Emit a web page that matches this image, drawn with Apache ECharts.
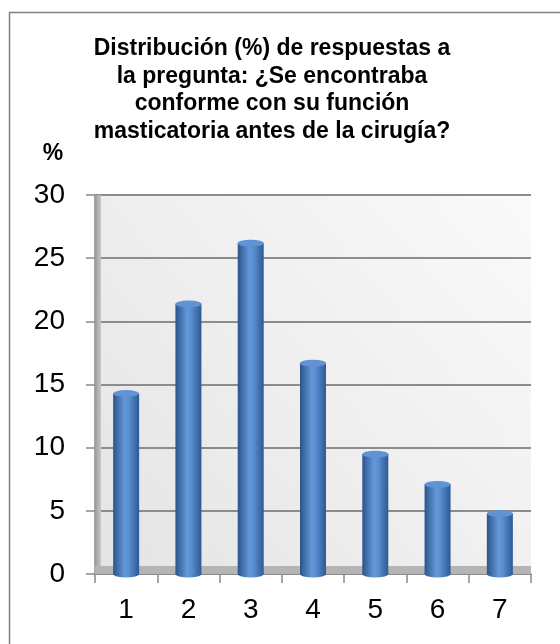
<!DOCTYPE html>
<html>
<head>
<meta charset="utf-8">
<script src="https://cdn.jsdelivr.net/npm/echarts@6/dist/echarts.min.js"></script>
<style>
html,body{margin:0;padding:0;background:#fff;}
#chart{width:560px;height:644px;}
</style>
</head>
<body>
<div id="chart"></div>
<script>
var titleText = 'Distribución (%) de respuestas a\nla pregunta: ¿Se encontraba\nconforme con su función\nmasticatoria antes de la cirugía?';
var yAxisName = '%';
var categories = ['1', '2', '3', '4', '5', '6', '7'];
var values = [14.3, 21.4, 26.2, 16.7, 9.5, 7.1, 4.8];
var yTicks = [0, 5, 10, 15, 20, 25, 30];

var chart = echarts.init(document.getElementById('chart'), null, {renderer: 'canvas'});
var barGrad = new echarts.graphic.LinearGradient(0, 0, 1, 0, [
  {offset: 0, color: '#2b5489'},
  {offset: 0.45, color: '#6399da'},
  {offset: 0.6, color: '#5a8fd2'},
  {offset: 1, color: '#2c5a93'}
]);
var GL = 95, GR = 29, GT = 195, GB = 70;
var option = {
  animation: false,
  backgroundColor: '#ffffff',
  title: {
    text: titleText,
    left: 267, textAlign: 'center', top: 30,
    textStyle: {fontFamily: 'Liberation Sans, Arial', fontWeight: 'bold', fontSize: 23, lineHeight: 27.5, color: '#000'}
  },
  graphic: [
    {type: 'rect', shape: {x: 9.5, y: 12.5, width: 700, height: 800}, style: {fill: 'none', stroke: '#808080', lineWidth: 1.5}, silent: true, z: 0},
    {type: 'text', x: 53, y: 154, style: {text: yAxisName, font: 'bold 23px "Liberation Sans", Arial', fill: '#000', align: 'center', verticalAlign: 'middle'}},
    {type: 'rect', shape: {x: GL, y: GT, width: 6, height: 644 - GT - GB}, style: {fill: new echarts.graphic.LinearGradient(0, 0, 1, 0, [{offset: 0, color: '#9a9a9a'}, {offset: 1, color: '#c8c8c8'}])}, silent: true, z: 1},
    {type: 'rect', shape: {x: GL, y: 644 - GB - 8, width: 560 - GL - GR, height: 8}, style: {fill: '#b4b4b4'}, silent: true, z: 1}
  ],
  grid: {
    left: GL, right: GR, top: GT, bottom: GB,
    show: true, borderWidth: 0,
    backgroundColor: new echarts.graphic.LinearGradient(1, 0, 0, 1, [
      {offset: 0, color: '#fafafa'},
      {offset: 1, color: '#e4e4e4'}
    ])
  },
  xAxis: {
    type: 'category', data: categories, boundaryGap: true,
    axisLine: {lineStyle: {color: '#8a8a8a', width: 1.5}},
    axisTick: {show: true, length: 9, inside: false, lineStyle: {color: '#8a8a8a', width: 1.5}},
    axisLabel: {margin: 22, fontSize: 28, fontFamily: 'Liberation Sans, Arial', color: '#000'}
  },
  yAxis: {
    type: 'value', min: 0, max: 30, interval: 5,
    axisLine: {show: true, lineStyle: {color: '#8a8a8a', width: 1.5}},
    axisTick: {show: true, length: 9, lineStyle: {color: '#8a8a8a', width: 1.5}},
    axisLabel: {margin: 30, fontSize: 28, fontFamily: 'Liberation Sans, Arial', color: '#000'},
    splitLine: {show: true, lineStyle: {color: '#8c8c8c', width: 1.8}}
  },
  series: [
    {
      type: 'bar', data: values, barWidth: 26, z: 2,
      itemStyle: {color: barGrad}
    },
    {
      type: 'pictorialBar', data: values, symbol: 'circle', symbolSize: [26, 7],
      symbolPosition: 'end', symbolOffset: [0, '-50%'], z: 3,
      itemStyle: {color: '#5f93d6', borderColor: '#2e5b93', borderWidth: 1}
    },
    {
      type: 'pictorialBar', data: values, symbol: 'circle', symbolSize: [26, 7],
      symbolPosition: 'start', symbolOffset: [0, '50%'], z: 1,
      itemStyle: {color: barGrad}
    }
  ]
};
chart.setOption(option);
</script>
</body>
</html>
